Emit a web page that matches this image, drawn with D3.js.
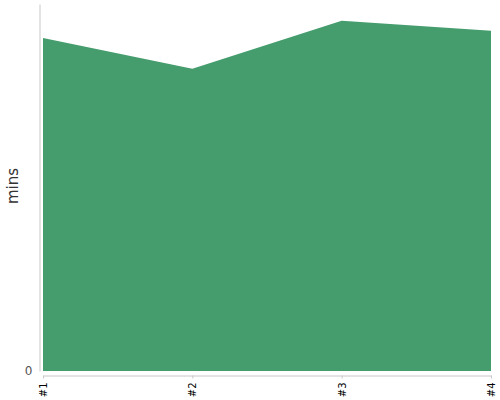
<!DOCTYPE html>
<html><head><meta charset="utf-8">
<script src="https://cdn.jsdelivr.net/npm/d3@7"></script>
<style>body{margin:0;background:#fff}svg{display:block}</style>
</head><body>
<svg id="c" width="500" height="400"></svg>
<script>
const categories = ["#1", "#2", "#3", "#4"];
const values = [49.9, 45.3, 52.5, 51.0];
const yTicks = [0];
const yLabel = "mins";

const svg = d3.select("#c");
const font = "DejaVu Sans, Verdana, sans-serif";
const x = d3.scalePoint().domain(categories).range([43, 491]);
const y = d3.scaleLinear().domain([0, 55]).range([371, 4]);

const data = categories.map((c, i) => ({c, v: values[i]}));
const area = d3.area().x(d => x(d.c)).y0(y(0)).y1(d => y(d.v));
svg.append("path").datum(data).attr("d", area).attr("fill", "#459c6d");

// y axis
const ya = svg.append("g").attr("transform", "translate(39.5,0)")
  .call(d3.axisLeft(y).tickValues(yTicks).tickSize(0).tickSizeOuter(0).tickPadding(7));
ya.select(".domain").attr("stroke", "#c8c8c8");
ya.selectAll("text").attr("font-family", font).attr("font-size", 12).attr("fill", "#555");

// x axis
const xa = svg.append("g").attr("transform", "translate(0,375.5)")
  .call(d3.axisBottom(x).tickSize(3).tickSizeOuter(0));
xa.select(".domain").attr("stroke", "#c8c8c8");
xa.selectAll(".tick line").attr("stroke", "#c8c8c8");
xa.selectAll("text").attr("font-family", font).attr("font-size", 10).attr("fill", "#000")
  .attr("transform", "rotate(-90)").attr("text-anchor", "end").attr("x", -7).attr("y", 0).attr("dy", "0.35em");

svg.append("text").attr("transform", "translate(18,186) rotate(-90)")
  .attr("text-anchor", "middle").attr("font-family", font)
  .attr("font-size", 15).attr("fill", "#333").text(yLabel);
</script>
</body></html>
